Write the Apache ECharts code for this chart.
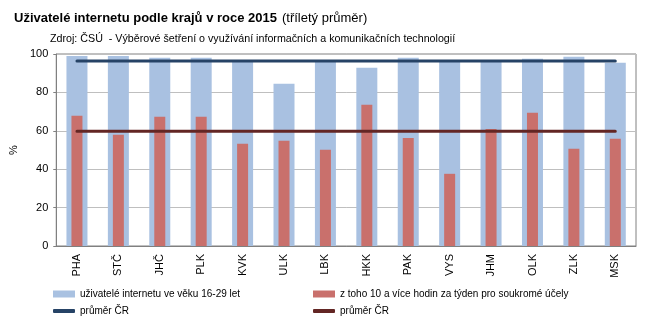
<!DOCTYPE html>
<html>
<head>
<meta charset="utf-8">
<script src="https://cdn.jsdelivr.net/npm/echarts@6/dist/echarts.min.js"></script>
<style>
  html, body { margin: 0; padding: 0; background: #fff; }
  #chart { width: 655px; height: 330px; }
</style>
</head>
<body>
<div id="chart"></div>
<script>
// Regions (kraje) of the Czech Republic
const regions = ['PHA', 'STČ', 'JHČ', 'PLK', 'KVK', 'ULK', 'LBK', 'HKK', 'PAK', 'VYS', 'JHM', 'OLK', 'ZLK', 'MSK'];
// Internet users aged 16-29, %
const usersYoung = [98.9, 99.0, 98.0, 98.0, 95.8, 84.5, 95.8, 92.9, 98.1, 95.8, 95.8, 97.5, 98.6, 95.5];
// of which 10+ hours a week for private purposes, %
const heavyUse = [67.8, 57.9, 67.3, 67.3, 53.2, 54.8, 50.1, 73.6, 56.3, 37.6, 61.0, 69.4, 50.6, 55.8];
// Czech Republic averages
const avgUsers = 96.3;
const avgHeavy = 59.8;
const yTicks = [0, 20, 40, 60, 80, 100];

const font = 'Liberation Sans, Arial, sans-serif';
const cBlue = '#A9C1E1';
const cRed = '#C9706C';
const cNavy = '#264366';
const cMaroon = '#632624';

const labels = {
  users: 'uživatelé internetu ve věku 16-29 let',
  heavy: 'z toho 10 a více hodin za týden pro soukromé účely',
  avgUsers: 'průměr ČR',
  avgHeavy: 'průměr ČR'
};

const chart = echarts.init(document.getElementById('chart'), null, { renderer: 'canvas' });

function legendAt(name, left, top, icon, w, h) {
  return {
    data: [name], left: left, top: top, icon: icon,
    itemWidth: w, itemHeight: h, itemGap: 0,
    padding: 0, selectedMode: false,
    formatter: n => labels[n],
    textStyle: { fontFamily: font, fontSize: 10, color: '#000', padding: [0, 0, 0, 0] }
  };
}

chart.setOption({
  animation: false,
  title: [
    {
      text: '{b|Uživatelé internetu podle krajů v roce 2015} {n|(tříletý průměr)}',
      left: 14, top: 9, padding: 0,
      textStyle: {
        fontWeight: 'normal',
        rich: {
          b: { fontFamily: font, fontSize: 13, fontWeight: 'bold', color: '#000' },
          n: { fontFamily: font, fontSize: 13, fontWeight: 'normal', color: '#000' }
        }
      }
    },
    {
      text: 'Zdroj: ČSÚ  - Výběrové šetření o využívání informačních a komunikačních technologií',
      left: 50, top: 34, padding: 0,
      textStyle: { fontFamily: font, fontSize: 10.7, fontWeight: 'normal', color: '#000' }
    }
  ],
  legend: [
    legendAt('users', 53, 289, 'rect', 22, 7),
    legendAt('heavy', 313, 289, 'rect', 22, 7),
    legendAt('avgUsers', 53, 306, 'roundRect', 22, 4),
    legendAt('avgHeavy', 313, 306, 'roundRect', 22, 4)
  ],
  grid: {
    left: 48, right: 19, top: 54, bottom: 84,
    show: true, borderColor: '#808080', borderWidth: 1
  },
  xAxis: [
    {
      type: 'category', data: regions,
      axisLine: { lineStyle: { color: '#808080' } },
      axisTick: { length: 4, lineStyle: { color: '#808080' } },
      axisLabel: { rotate: 90, margin: 8, fontFamily: font, fontSize: 11, color: '#000' }
    },
    {
      type: 'category', data: regions, show: false
    }
  ],
  yAxis: {
    type: 'value', min: 0, max: 100, interval: 20,
    name: '%', nameLocation: 'middle', nameRotate: 90, nameGap: 30,
    nameTextStyle: { fontFamily: font, fontSize: 11, color: '#000' },
    axisLine: { show: true, lineStyle: { color: '#808080' } },
    axisTick: { show: true, length: 3, lineStyle: { color: '#808080' } },
    axisLabel: {
      margin: 8, fontFamily: font, fontSize: 11, color: '#000',
      formatter: v => (yTicks.includes(v) ? String(v) : '')
    },
    splitLine: { lineStyle: { color: '#BFBFBF' } }
  },
  series: [
    {
      name: 'users', type: 'bar', xAxisIndex: 0, data: usersYoung,
      barWidth: 21, itemStyle: { color: cBlue }, z: 1
    },
    {
      name: 'heavy', type: 'bar', xAxisIndex: 1, data: heavyUse,
      barWidth: 11, itemStyle: { color: cRed }, z: 2
    },
    {
      name: 'avgUsers', type: 'line', xAxisIndex: 0,
      data: regions.map(() => avgUsers),
      symbol: 'none', lineStyle: { color: cNavy, width: 3, cap: 'round' },
      itemStyle: { color: cNavy }, z: 3
    },
    {
      name: 'avgHeavy', type: 'line', xAxisIndex: 0,
      data: regions.map(() => avgHeavy),
      symbol: 'none', lineStyle: { color: cMaroon, width: 3, cap: 'round' },
      itemStyle: { color: cMaroon }, z: 3
    }
  ]
});
</script>
</body>
</html>
